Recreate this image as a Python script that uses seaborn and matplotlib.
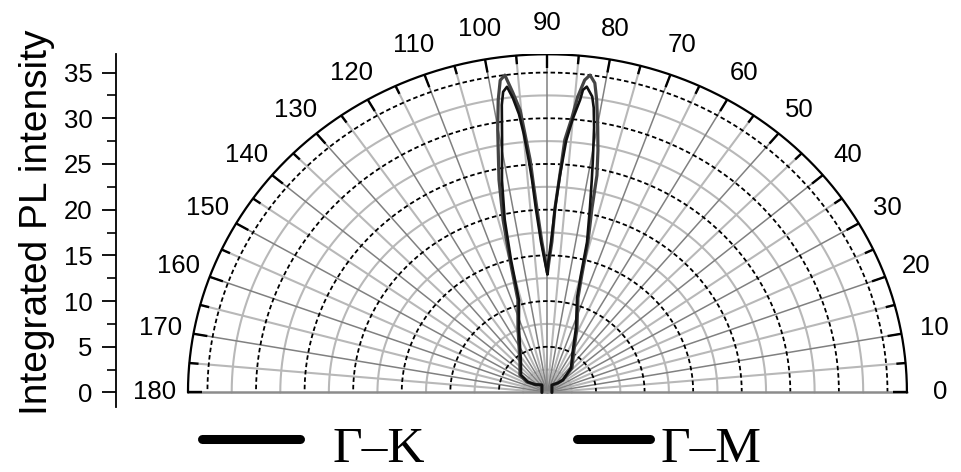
import numpy as np
import pandas as pd
import matplotlib
matplotlib.use("Agg")
import matplotlib.pyplot as plt
import seaborn as sns
from matplotlib.lines import Line2D

# ---------------- data (angle in degrees, integrated PL intensity) ----------------
series_names = ["Γ–K", "Γ–M"]

theta_GK = [0, 60.5, 43.9, 40.6, 46.7, 59.6, 66.7, 73.1, 74.6, 75.8,
            77.2, 77.9, 78.9, 79.9, 81.0, 81.8, 82.8, 83.6, 84.5, 85.2,
            86.3, 86.9, 87.8, 88.4, 89.4, 90.0, 90.6, 92.0, 93.1, 93.7,
            94.0, 94.7, 95.2, 96.2, 97.2, 98.1, 99.0, 100.1, 102.1, 103.6,
            104.9, 105.9, 106.7, 113.3, 130.3, 145.9, 151.4, 145.8, 124.6, 180]
r_GK = [0.46, 0.94, 1.5, 2.10, 3.68, 5.39, 7.68, 10.8, 13.3, 17.0,
        20.7, 24.3, 27.0, 29.5, 32.4, 34.2, 35.0, 34.4, 32.5, 30.2,
        27.7, 24.0, 20.2, 16.5, 14.3, 13.1, 13.95, 16.5, 20.2, 23.3,
        25.5, 28.5, 31.0, 33.0, 35.0, 34.5, 32.4, 29.2, 23.8, 19.4,
        15.0, 12.2, 10.6, 7.68, 4.38, 3.42, 2.40, 1.56, 1.0, 0.57]

theta_GM = [0, 60.5, 43.9, 40.6, 47.9, 60.6, 67.4, 73.6, 75.0, 76.1,
            77.8, 78.9, 79.6, 80.6, 81.3, 81.9, 83.1, 83.7, 84.0, 85.0,
            86.0, 86.9, 87.8, 88.7, 89.8, 90.0, 90.7, 92.3, 93.4, 93.9,
            94.3, 94.9, 95.5, 96.3, 97.1, 97.9, 98.5, 99.6, 101.4, 103.1,
            104.5, 105.4, 106.2, 112.6, 129.3, 144.9, 150.2, 145.8, 124.6, 180]
r_GM = [0.46, 0.94, 1.5, 2.1, 3.61, 5.34, 7.64, 10.8, 13.3, 16.96,
        20.7, 23.7, 25.9, 29.4, 31.5, 32.7, 33.7, 33.3, 32.2, 30.1,
        27.6, 23.8, 20.1, 16.5, 13.95, 12.9, 13.8, 16.5, 20.2, 23.3,
        25.3, 28.3, 30.6, 32.4, 33.7, 33.2, 31.8, 28.0, 23.7, 19.4,
        15.0, 12.2, 10.5, 7.64, 4.31, 3.33, 2.31, 1.56, 1.0, 0.57]

radial_major = [0, 5, 10, 15, 20, 25, 30, 35]
radial_minor = [2.5, 7.5, 12.5, 17.5, 22.5, 27.5, 32.5]
angle_labels = [0, 10, 20, 30, 40, 50, 60, 70, 80, 90,
                100, 110, 120, 130, 140, 150, 160, 170, 180]
r_max = 37
y_label = "Integrated PL intensity"

# ---------------- style ----------------
sns.set_style("white")
plt.rcParams["font.family"] = ["Liberation Sans", "DejaVu Sans"]

fig = plt.figure(figsize=(9.61, 4.72), dpi=100)
ax = fig.add_axes([0.1208, 0.1375, 0.8573, 0.7475])
ax.set_xlim(-44.4, 40.4)
ax.set_ylim(-1.6, 37.0)


def pol(th_deg, r):
    th = np.deg2rad(np.asarray(th_deg, dtype=float))
    r = np.asarray(r, dtype=float)
    return r * np.cos(th), r * np.sin(th)


phi = np.linspace(0, 180, 721)

# light grey minor circles
for rr in radial_minor:
    x, y = pol(phi, np.full_like(phi, rr))
    ax.plot(x, y, color="#b8b8b8", lw=1.5, zorder=1)
# light grey radial lines every 5 deg
for a in range(5, 180, 10):
    x, y = pol([a, a], [0, r_max])
    ax.plot(x, y, color="#b8b8b8", lw=1.5, zorder=1)
# darker radial lines every 10 deg
for a in range(10, 180, 10):
    x, y = pol([a, a], [0, r_max])
    ax.plot(x, y, color="#808080", lw=1.1, zorder=1.5)
# dashed major circles
for rr in radial_major[1:]:
    x, y = pol(phi, np.full_like(phi, rr))
    ax.plot(x, y, color="black", lw=1.3, ls=(0, (2.5, 1.6)), zorder=2)
# baseline
ax.plot([-r_max, r_max], [0, 0], color="#8c8c8c", lw=1.8, zorder=2.5)
# outer arc
x, y = pol(phi, np.full_like(phi, r_max))
ax.plot(x, y, color="black", lw=1.6, zorder=3)
# angular ticks on the outer arc
for a in range(0, 181, 5):
    L = 1.45 if a % 10 == 0 else 0.95
    x, y = pol([a, a], [r_max, r_max - L])
    ax.plot(x, y, color="black", lw=1.7, zorder=3, solid_capstyle="butt")
# angle labels
for a in angle_labels:
    x, y = pol(a, 40.4)
    ax.text(x, y, str(a), ha="center", va="center", fontsize=18.5,
            color="black", clip_on=False)

# ---------------- curves ----------------
df = pd.concat([
    pd.DataFrame({"series": series_names[0], "order": np.arange(len(r_GK)),
                  "x": pol(theta_GK, r_GK)[0], "y": pol(theta_GK, r_GK)[1]}),
    pd.DataFrame({"series": series_names[1], "order": np.arange(len(r_GM)),
                  "x": pol(theta_GM, r_GM)[0], "y": pol(theta_GM, r_GM)[1]}),
], ignore_index=True)

colors = {series_names[0]: "#444444", series_names[1]: "#111111"}
widths = {series_names[0]: 2.3, series_names[1]: 1.9}
for name in series_names:
    sns.lineplot(data=df[df["series"] == name], x="x", y="y", sort=False,
                 estimator=None, color=colors[name], lw=widths[name],
                 ax=ax, zorder=4, legend=False)

# ---------------- axes ----------------
ax.set_xticks([])
ax.set_yticks(radial_major)
ax.set_yticks(radial_minor, minor=True)
ax.tick_params(axis="y", which="major", direction="out", length=10, width=1.3,
               labelsize=18.5, pad=7, colors="black", left=True)
ax.tick_params(axis="y", which="minor", direction="out", length=6.5, width=1.2,
               colors="black", left=True)
for s in ["top", "right", "bottom"]:
    ax.spines[s].set_visible(False)
ax.spines["left"].set_color("black")
ax.spines["left"].set_linewidth(1.3)
ax.set_xlabel("")
ax.set_ylabel(y_label, fontsize=28, color="black", va="center")
ax.yaxis.set_label_coords(-0.0965, 0.525)

# ---------------- legend (manual) ----------------
W, H = 961.0, 472.0
leg = [(202, 300, 332, series_names[0]), (577, 650, 660, series_names[1])]
for x0, x1, xt, name in leg:
    fig.add_artist(Line2D([x0 / W, x1 / W], [1 - 439 / H, 1 - 439 / H],
                          color="black", lw=6.5, solid_capstyle="round"))
    fig.text(xt / W, 1 - 462 / H, name, fontsize=37, va="baseline", ha="left",
             family=["Liberation Serif", "DejaVu Serif"], color="black")

fig.savefig("out.png", dpi=100)
